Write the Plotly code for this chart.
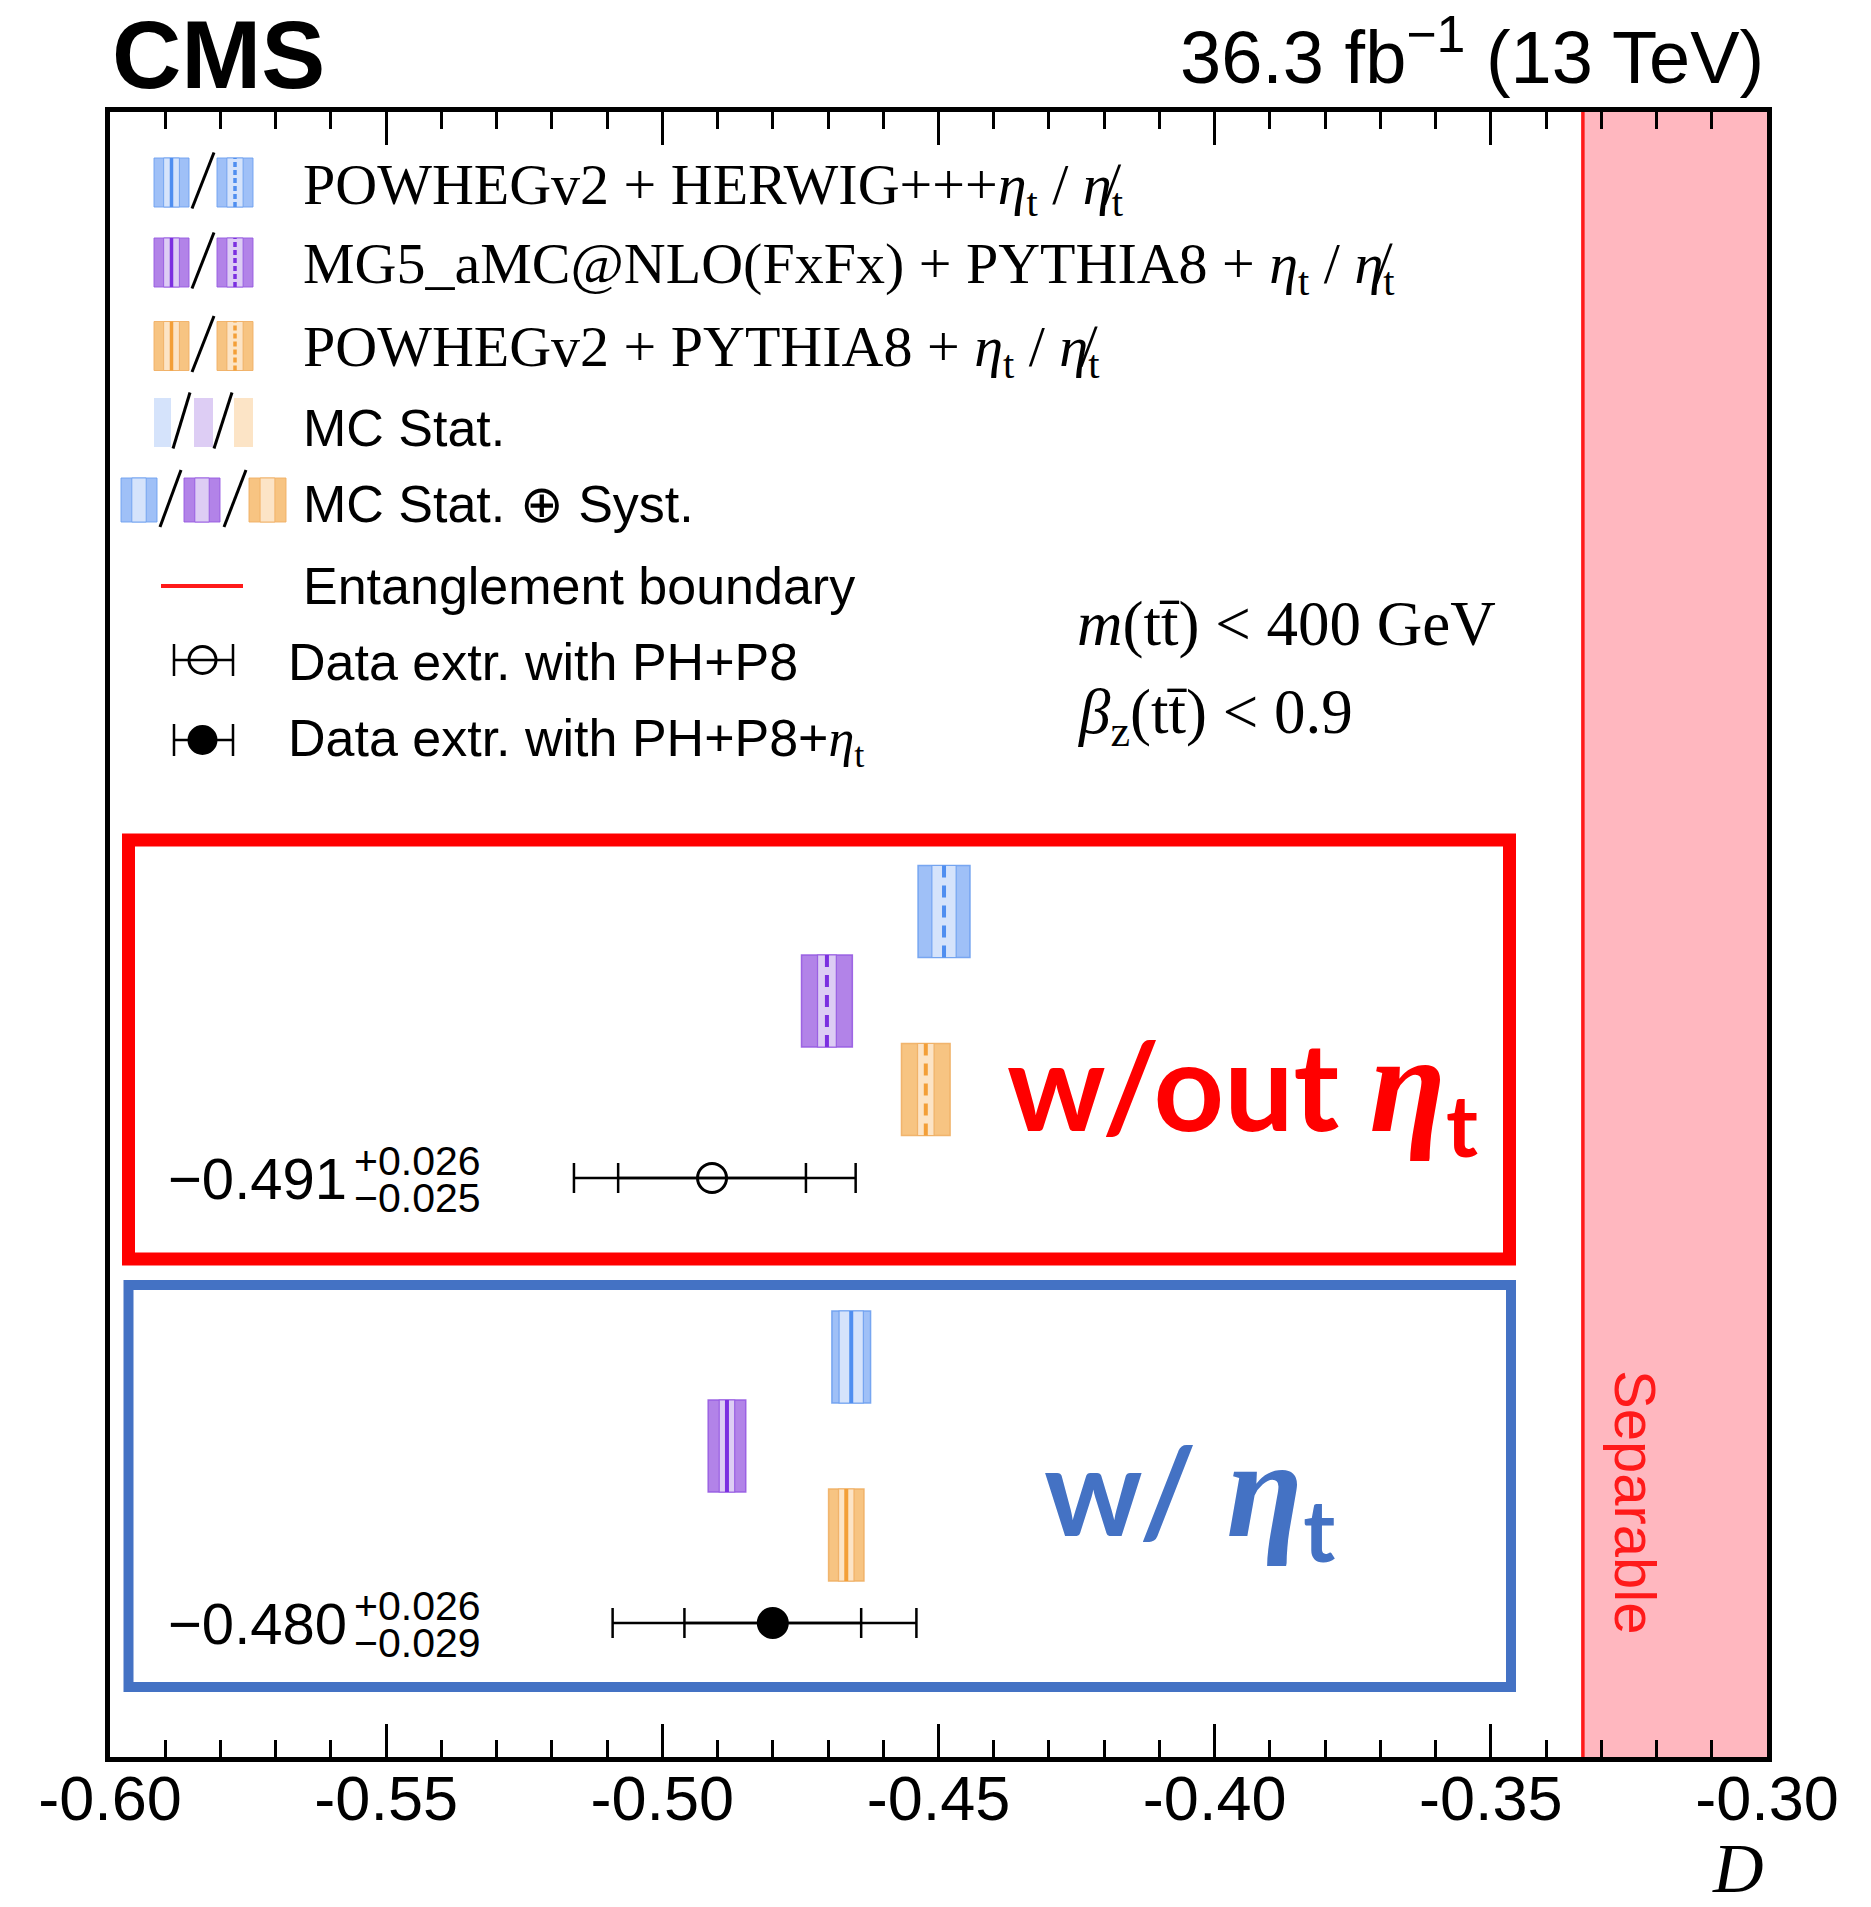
import plotly.graph_objects as go

# ---------------- data ----------------
models = ["POWHEGv2 + HERWIG++", "MG5_aMC@NLO(FxFx) + PYTHIA8", "POWHEGv2 + PYTHIA8"]
# without eta_t
wo_center = [-0.4490, -0.4702, -0.4523]
wo_stat = [0.0022, 0.0017, 0.0015]
wo_tot = [0.0047, 0.0046, 0.0044]
# with eta_t
w_center = [-0.4658, -0.4883, -0.4667]
w_stat = [0.0022, 0.0014, 0.0014]
w_tot = [0.0035, 0.0034, 0.0032]
# data extraction
data_value = [-0.491, -0.480]
data_stat_up = [0.017, 0.016]
data_stat_dn = [0.017, 0.016]
data_tot_up = [0.026, 0.026]
data_tot_dn = [0.025, 0.029]
data_text = ["−0.491", "−0.480"]
data_up_text = ["+0.026", "+0.026"]
data_dn_text = ["−0.025", "−0.029"]
boundary = -1.0 / 3.0
x_range = [-0.60, -0.30]
xticks = [-0.60, -0.55, -0.50, -0.45, -0.40, -0.35, -0.30]
xtick_labels = ["-0.60", "-0.55", "-0.50", "-0.45", "-0.40", "-0.35", "-0.30"]
xminor = [round(-0.60 + 0.01 * i, 2) for i in range(31)]

# ---------------- layout constants ----------------
W, H = 1871, 1907
PL, PR, PT, PB = 110, 1767, 112, 1757
Y_RANGE = [0, 16.45]
rows_wo = [8.455, 7.56, 6.675]
row_data_wo = 5.79
rows_w = [4.00, 3.11, 2.22]
row_data_w = 1.34
BAR_H = 0.92

SANS = "Liberation Sans"
SERIF = "Liberation Serif"

cols = [
    dict(mid="#9fc0f7", light="#d5e3fb", dark="#4f8ef0", edge="rgba(110,160,240,0.9)"),
    dict(mid="#b283e8", light="#ddcdf4", dark="#7b2fe0", edge="rgba(150,90,225,0.9)"),
    dict(mid="#f7c482", light="#fce4c6", dark="#f39f38", edge="rgba(240,175,100,0.9)"),
]


def px(x):
    return (x - PL) / (PR - PL)


def py(y):
    return (PB - y) / (PB - PT)


fig = go.Figure()

# model bands
for centers, stats, tots, rows, dash in [
    (wo_center, wo_stat, wo_tot, rows_wo, "12px,8px"),
    (w_center, w_stat, w_tot, rows_w, "solid"),
]:
    for i in range(3):
        c = cols[i]
        fig.add_trace(go.Bar(orientation="h", y=[rows[i]], x=[2 * tots[i]], base=[centers[i] - tots[i]],
                             width=BAR_H, marker=dict(color=c["mid"], line=dict(color=c["edge"], width=1.5)),
                             hoverinfo="skip"))
        fig.add_trace(go.Bar(orientation="h", y=[rows[i]], x=[2 * stats[i]], base=[centers[i] - stats[i]],
                             width=BAR_H, marker=dict(color=c["light"], line=dict(color=c["edge"], width=1.2)),
                             hoverinfo="skip"))
        fig.add_trace(go.Scatter(x=[centers[i], centers[i]], y=[rows[i] - BAR_H / 2, rows[i] + BAR_H / 2],
                                 mode="lines", line=dict(color=c["dark"], width=4, dash=dash),
                                 hoverinfo="skip"))

# data points
for k, (row, sym) in enumerate([(row_data_wo, "circle-open"), (row_data_w, "circle")]):
    fig.add_trace(go.Scatter(x=[data_value[k]], y=[row], mode="markers",
                             marker=dict(size=1, color="rgba(0,0,0,0)"),
                             error_x=dict(type="data", symmetric=False, array=[data_stat_up[k]],
                                          arrayminus=[data_stat_dn[k]], color="black", thickness=2.5, width=15),
                             hoverinfo="skip"))
    fig.add_trace(go.Scatter(x=[data_value[k]], y=[row], mode="markers",
                             marker=dict(size=29, symbol=sym, color="black", line=dict(color="black", width=3)),
                             error_x=dict(type="data", symmetric=False, array=[data_tot_up[k]],
                                          arrayminus=[data_tot_dn[k]], color="black", thickness=2.5, width=15),
                             hoverinfo="skip"))

shapes = []
# separable region
shapes.append(dict(type="rect", xref="x", yref="paper", x0=boundary, x1=x_range[1], y0=0, y1=1,
                   fillcolor="#ffb7bf", line=dict(width=0), layer="below"))
shapes.append(dict(type="line", xref="x", yref="paper", x0=boundary, x1=boundary, y0=0, y1=1,
                   line=dict(color="#ff1a1a", width=3.5)))
# boxes
shapes.append(dict(type="rect", xref="paper", yref="paper", x0=px(128.5), x1=px(1509.5), y0=py(1259), y1=py(840),
                   line=dict(color="#ff0000", width=13)))
shapes.append(dict(type="rect", xref="paper", yref="paper", x0=px(128.5), x1=px(1511), y0=py(1687), y1=py(1285),
                   line=dict(color="#4472c4", width=10)))


def band_symbol(x0, x1, y0, y1, c, center=None, inner_frac=0.45):
    xc = (x0 + x1) / 2
    hw = (x1 - x0) / 2 * inner_frac
    shapes.append(dict(type="rect", xref="paper", yref="paper", x0=px(x0), x1=px(x1), y0=py(y1), y1=py(y0),
                       fillcolor=c["mid"], line=dict(color=c["edge"], width=1)))
    shapes.append(dict(type="rect", xref="paper", yref="paper", x0=px(xc - hw), x1=px(xc + hw), y0=py(y1), y1=py(y0),
                       fillcolor=c["light"], line=dict(color=c["edge"], width=1)))
    if center is not None:
        shapes.append(dict(type="line", xref="paper", yref="paper", x0=px(xc), x1=px(xc), y0=py(y1), y1=py(y0),
                           line=dict(color=c["dark"], width=3.5, dash=center)))


def slash(x0, yb, x1, yt):
    shapes.append(dict(type="line", xref="paper", yref="paper", x0=px(x0), x1=px(x1), y0=py(yb), y1=py(yt),
                       line=dict(color="black", width=3)))


# legend rows 1-3
for i, yc in enumerate([182.5, 262.5, 346]):
    band_symbol(154, 189, yc - 24.5, yc + 24.5, cols[i], center="solid")
    slash(192, yc + 26, 214, yc - 30)
    band_symbol(217, 253, yc - 24.5, yc + 24.5, cols[i], center="5px,3px")
# row 4: MC stat
yc = 422.5
for i, (a, b) in enumerate([(154, 171), (194, 213), (234, 253)]):
    shapes.append(dict(type="rect", xref="paper", yref="paper", x0=px(a), x1=px(b), y0=py(yc + 24.5),
                       y1=py(yc - 24.5), fillcolor=cols[i]["light"], line=dict(width=0)))
slash(173, yc + 26, 190, yc - 30)
slash(214, yc + 26, 232, yc - 30)
# row 5: MC stat + syst
yc = 500
for i, (a, b) in enumerate([(121, 157), (184, 220), (249, 286)]):
    band_symbol(a, b, yc - 22, yc + 22, cols[i], center=None, inner_frac=0.4)
slash(160, yc + 27, 181, yc - 30)
slash(224, yc + 27, 246, yc - 30)
# row 6: boundary line
shapes.append(dict(type="line", xref="paper", yref="paper", x0=px(161), x1=px(243), y0=py(586), y1=py(586),
                   line=dict(color="#ff1a1a", width=4)))
# rows 7-8: data markers
for yc, fill in [(660, "rgba(0,0,0,0)"), (740, "black")]:
    shapes.append(dict(type="line", xref="paper", yref="paper", x0=px(174), x1=px(233), y0=py(yc), y1=py(yc),
                       line=dict(color="black", width=2.5)))
    for xx in (174, 233):
        shapes.append(dict(type="line", xref="paper", yref="paper", x0=px(xx), x1=px(xx), y0=py(yc - 16),
                           y1=py(yc + 16), line=dict(color="black", width=2.5)))
    shapes.append(dict(type="circle", xref="paper", yref="paper", x0=px(189), x1=px(216), y0=py(yc + 13.5),
                       y1=py(yc - 13.5), fillcolor=fill, line=dict(color="black", width=3)))

annotations = []


def ann(text, x, y, size, family=SANS, color="black", xanchor="left", yanchor="middle", **kw):
    annotations.append(dict(text=text, x=px(x), y=py(y), xref="paper", yref="paper", showarrow=False,
                            xanchor=xanchor, yanchor=yanchor, font=dict(size=size, family=family, color=color),
                            **kw))


eta = "<i>η</i><sub>t</sub>"
eta_slash = "<i>η\u0338</i><sub>t</sub>"
ann("POWHEGv2 + HERWIG+++" + eta + " / " + eta_slash, 301, 188, 58, SERIF)
ann("MG5_aMC@NLO(FxFx) + PYTHIA8 + " + eta + " / " + eta_slash, 301, 268, 58, SERIF)
ann("POWHEGv2 + PYTHIA8 + " + eta + " / " + eta_slash, 301, 350, 58, SERIF)
ann("MC Stat.", 301, 428, 52)
ann("MC Stat. ⊕ Syst.", 301, 504, 52)
ann("Entanglement boundary", 301, 586, 52)
ann("Data extr. with PH+P8", 286, 662, 52)
ann("Data extr. with PH+P8+<span style='font-family:Liberation Serif'>" + eta + "</span>", 286, 742, 52)

ann("<i>m</i>(tt\u0304) &lt; 400 GeV", 1075, 624, 63, SERIF)
ann("<i>β</i><sub>z</sub>(tt\u0304) &lt; 0.9", 1075, 716, 63, SERIF)

ann("<b>CMS</b>", 110, 55, 96)
ann("36.3 fb<sup>−1</sup> (13 TeV)", 1766, 52, 74, xanchor="right")
ann("<i>D</i>", 1766, 1868, 70, SERIF, xanchor="right")

ann("Separable", 1636, 1502, 58, color="#ff1a1a", xanchor="center", textangle=90)

ann("<b>w/out </b><span style='font-family:Liberation Serif;font-size:140px'><b><i>η</i></b></span>"
    "<b><sub>t</sub></b>", 1005, 1090, 123, "Lato", color="#ff0000")
ann("<b>w/ </b><span style='font-family:Liberation Serif;font-size:140px'><b><i>η</i></b></span>"
    "<b><sub>t</sub></b>", 1042, 1495, 123, "Lato", color="#4472c4")

for k, yc in enumerate([1178, 1623]):
    ann(data_text[k], 166, yc, 58)
    ann(data_up_text[k], 352, yc - 17, 41)
    ann(data_dn_text[k], 352, yc + 20, 41)

fig.update_layout(
    width=W, height=H,
    margin=dict(l=PL, r=W - PR, t=PT, b=H - PB),
    plot_bgcolor="white", paper_bgcolor="white",
    showlegend=False, barmode="overlay",
    shapes=shapes, annotations=annotations,
    xaxis=dict(range=x_range, tickmode="array", tickvals=xticks, ticktext=xtick_labels,
               ticks="inside", ticklen=33, tickwidth=3, tickcolor="black",
               minor=dict(tickmode="array", tickvals=xminor, ticks="inside", ticklen=17, tickwidth=2.5,
                          tickcolor="black"),
               showline=True, linewidth=5, linecolor="black", mirror="allticks",
               showgrid=False, zeroline=False, tickfont=dict(size=63, family=SANS, color="black"),
               ticklabelstandoff=-18),
    yaxis=dict(range=Y_RANGE, showticklabels=False, ticks="", showline=True, linewidth=5, linecolor="black",
               mirror=True, showgrid=False, zeroline=False),
)

fig.write_html("out.html")
